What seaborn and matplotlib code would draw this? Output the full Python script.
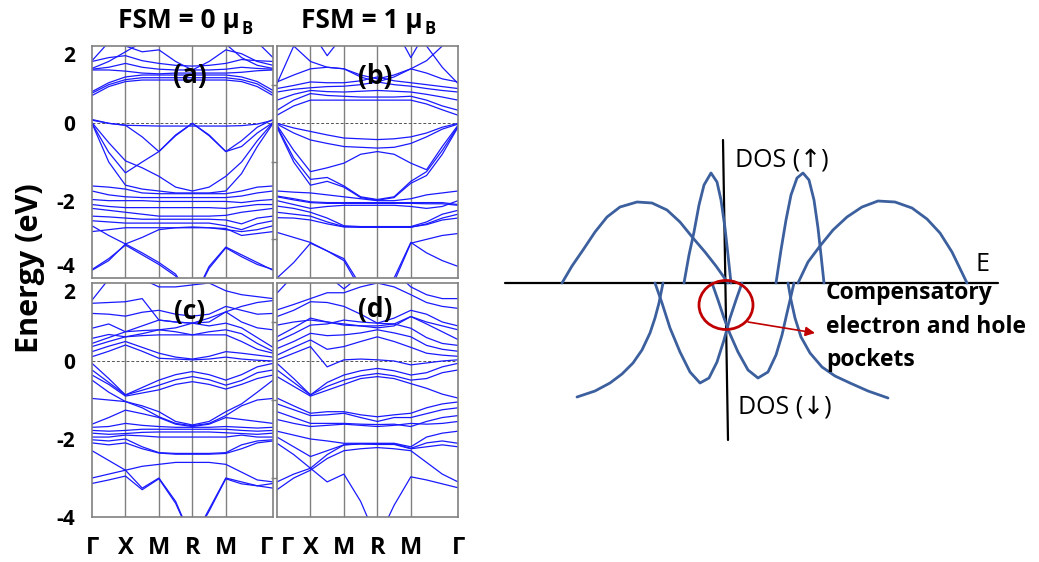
import numpy as np
import pandas as pd
import matplotlib
matplotlib.use("Agg")
import matplotlib.pyplot as plt
import matplotlib.transforms as mtransforms
import seaborn as sns
from matplotlib.patches import Ellipse

# ---------------------------------------------------------------- band data
# k-path sample positions along Γ-X-M-R-M-Γ (segments 1:1:1:1:√2)
k_path = [0, 0.5, 1, 1.5, 2, 2.5, 3, 3.5, 4, 4.47, 4.94, 5.41]
k_sym = [0, 1, 2, 3, 4, 5.41]
k_labels = ["Γ", "X", "M", "R", "M", "Γ"]
e_ticks = [2, 0, -2, -4]
e_tick_labels = ["2", "0", "-2", "-4"]

# (a) FSM = 0, spin channel 1
bands_a = [
    [0.72, 0.95, 1.08, 1.12, 1.12, 1.12, 1.12, 1.12, 1.12, 1.08, 0.95, 0.72],
    [0.78, 1.00, 1.13, 1.18, 1.18, 1.18, 1.18, 1.18, 1.18, 1.13, 1.02, 0.78],
    [0.82, 1.05, 1.20, 1.25, 1.25, 1.25, 1.25, 1.25, 1.25, 1.20, 1.08, 0.85],
    [1.38, 1.38, 1.35, 1.30, 1.28, 1.30, 1.30, 1.30, 1.30, 1.32, 1.36, 1.38],
    [1.40, 1.45, 1.55, 1.45, 1.40, 1.38, 1.38, 1.38, 1.40, 1.45, 1.42, 1.40],
    [1.60, 1.70, 1.75, 1.62, 1.55, 1.50, 1.48, 1.50, 1.55, 1.65, 1.62, 1.60],
    [2.50, 2.20, 2.00, 1.85, 1.90, 1.60, 1.38, 1.60, 1.90, 1.80, 1.60, 1.50],
    [1.62, 2.10, 2.50, 2.50, 2.50, 2.50, 2.50, 2.50, 2.50, 2.50, 2.10, 1.70],
    [1.42, 1.60, 1.85, 2.10, 2.00, 2.30, 2.50, 2.30, 2.05, 1.70, 1.50, 1.42],
    [0.10, 0.00, -0.05, -0.35, -0.73, -0.30, 0.00, -0.30, -0.73, -0.45, -0.10, 0.10],
    [0.08, 0.00, -0.05, -0.06, -0.07, -0.07, -0.07, -0.07, -0.07, -0.06, -0.02, 0.08],
    [0.02, -0.50, -0.97, -1.15, -1.37, -1.65, -1.75, -1.65, -1.37, -1.00, -0.45, 0.02],
    [0.00, -0.75, -1.28, -1.00, -0.73, -0.32, 0.00, -0.32, -0.73, -0.60, -0.25, 0.02],
    [0.00, -1.00, -1.60, -1.70, -1.75, -1.80, -1.80, -1.80, -1.75, -1.30, -0.60, 0.00],
    [-1.62, -1.65, -1.70, -1.80, -1.82, -1.82, -1.82, -1.82, -1.82, -1.75, -1.65, -1.62],
    [-1.75, -1.85, -1.90, -1.92, -1.92, -1.92, -1.92, -1.92, -1.92, -1.88, -1.80, -1.75],
    [-1.97, -2.00, -2.00, -2.00, -2.02, -2.02, -2.02, -2.02, -2.02, -2.05, -2.00, -1.97],
    [-2.10, -2.15, -2.18, -2.18, -2.18, -2.18, -2.18, -2.18, -2.20, -2.15, -2.10, -2.10],
    [-2.20, -2.25, -2.30, -2.35, -2.40, -2.40, -2.40, -2.40, -2.38, -2.30, -2.25, -2.20],
    [-2.40, -2.42, -2.45, -2.48, -2.48, -2.48, -2.48, -2.48, -2.50, -2.60, -2.45, -2.40],
    [-2.52, -2.55, -2.58, -2.58, -2.58, -2.58, -2.58, -2.58, -2.65, -2.75, -2.60, -2.52],
    [-2.65, -2.90, -3.12, -2.95, -2.75, -2.70, -2.68, -2.70, -2.75, -2.80, -2.75, -2.65],
    [-2.80, -2.75, -2.70, -2.70, -2.70, -2.70, -2.70, -2.70, -2.72, -2.90, -2.85, -2.80],
    [-3.80, -3.55, -3.12, -3.35, -3.60, -3.90, -4.60, -3.70, -3.20, -3.40, -3.60, -3.80],
    [-3.78, -3.50, -3.15, -3.40, -3.65, -3.95, -4.60, -3.75, -3.22, -3.45, -3.65, -3.78],
]

# (b) FSM = 1, spin channel 1
bands_b = [
    [0.21, 0.45, 0.60, 0.60, 0.60, 0.60, 0.60, 0.60, 0.60, 0.50, 0.35, 0.21],
    [0.34, 0.60, 0.77, 0.72, 0.70, 0.68, 0.68, 0.68, 0.70, 0.60, 0.45, 0.34],
    [0.60, 0.75, 0.85, 0.82, 0.81, 0.83, 0.85, 0.83, 0.81, 0.75, 0.68, 0.60],
    [0.81, 0.88, 0.92, 0.95, 0.96, 1.00, 1.07, 1.00, 0.96, 0.90, 0.85, 0.81],
    [0.90, 0.98, 1.07, 1.05, 1.05, 1.10, 1.20, 1.10, 1.05, 1.00, 0.95, 0.90],
    [1.07, 1.25, 1.41, 1.45, 1.41, 1.20, 1.07, 1.20, 1.41, 1.30, 1.15, 1.07],
    [2.50, 2.50, 2.40, 1.75, 2.30, 2.50, 2.50, 2.50, 1.70, 2.40, 2.50, 2.50],
    [1.03, 2.00, 2.50, 2.50, 2.50, 2.50, 2.50, 2.50, 2.50, 2.00, 1.45, 1.03],
    [2.40, 2.00, 1.60, 1.45, 1.41, 1.25, 1.15, 1.25, 1.41, 1.62, 2.00, 2.40],
    [0.00, -0.12, -0.21, -0.30, -0.38, -0.40, -0.42, -0.40, -0.35, -0.25, -0.10, 0.00],
    [-0.02, -0.25, -0.43, -0.52, -0.60, -0.62, -0.64, -0.62, -0.52, -0.35, -0.15, -0.02],
    [-0.05, -0.70, -1.25, -1.15, -1.03, -0.80, -0.73, -0.80, -1.03, -1.20, -0.60, -0.05],
    [-0.08, -0.90, -1.45, -1.40, -1.62, -1.90, -1.97, -1.90, -1.50, -1.25, -0.70, -0.08],
    [-0.10, -1.00, -1.60, -1.50, -1.65, -1.92, -1.99, -1.92, -1.55, -1.35, -0.80, -0.10],
    [-1.75, -1.78, -1.80, -1.85, -1.90, -1.95, -2.00, -2.00, -1.95, -1.85, -1.80, -1.75],
    [-1.88, -1.95, -2.03, -2.05, -2.05, -2.05, -2.05, -2.05, -2.05, -2.05, -2.05, -2.10],
    [-1.90, -1.98, -2.05, -2.07, -2.07, -2.07, -2.07, -2.07, -2.07, -2.08, -2.08, -2.12],
    [-2.00, -2.10, -2.20, -2.15, -2.12, -2.12, -2.12, -2.12, -2.15, -2.20, -2.15, -2.00],
    [-2.14, -2.20, -2.30, -2.45, -2.65, -2.67, -2.67, -2.67, -2.67, -2.55, -2.35, -2.25],
    [-2.30, -2.35, -2.40, -2.55, -2.67, -2.69, -2.69, -2.69, -2.69, -2.60, -2.45, -2.35],
    [-2.44, -2.45, -2.50, -2.60, -2.68, -2.68, -2.68, -2.68, -2.68, -2.62, -2.50, -2.45],
    [-4.00, -3.60, -3.10, -3.30, -3.50, -4.20, -4.80, -4.00, -3.08, -3.35, -3.55, -3.70],
    [-2.82, -2.95, -3.08, -3.30, -3.55, -4.30, -4.90, -4.10, -3.10, -3.00, -2.90, -2.85],
]

# (c) FSM = 0, spin channel 2
bands_c = [
    [0.11, 0.25, 0.41, 0.25, 0.07, 0.05, 0.03, 0.05, 0.10, 0.05, 0.02, 0.00],
    [0.24, 0.38, 0.50, 0.35, 0.20, 0.10, 0.05, 0.12, 0.24, 0.20, 0.15, 0.10],
    [0.37, 0.50, 0.62, 0.65, 0.67, 0.67, 0.67, 0.67, 0.67, 0.50, 0.30, 0.20],
    [0.45, 0.60, 0.75, 0.78, 0.80, 0.75, 0.67, 0.75, 0.80, 0.70, 0.45, 0.25],
    [0.58, 0.68, 0.62, 0.70, 0.80, 0.85, 0.97, 0.90, 0.97, 0.85, 0.60, 0.35],
    [0.84, 0.95, 0.75, 0.90, 1.05, 1.00, 0.97, 1.00, 1.26, 1.00, 0.85, 0.80],
    [1.48, 1.50, 1.52, 1.60, 1.05, 1.00, 0.97, 1.10, 1.26, 1.40, 1.50, 1.55],
    [1.56, 2.10, 2.40, 2.10, 1.90, 1.90, 1.95, 2.00, 1.80, 1.70, 1.65, 1.60],
    [1.22, 1.20, 1.15, 1.25, 1.30, 1.20, 1.15, 1.20, 1.40, 1.30, 1.20, 1.22],
    [-0.06, -0.45, -0.87, -0.68, -0.49, -0.35, -0.27, -0.35, -0.49, -0.35, -0.15, -0.06],
    [-0.23, -0.55, -0.87, -0.75, -0.62, -0.48, -0.40, -0.48, -0.62, -0.50, -0.30, -0.23],
    [-0.36, -0.60, -0.90, -0.82, -0.74, -0.60, -0.53, -0.60, -0.72, -0.60, -0.45, -0.36],
    [-0.49, -0.80, -1.04, -1.15, -1.30, -1.55, -1.64, -1.55, -1.30, -1.10, -0.80, -0.49],
    [-0.96, -1.00, -1.04, -1.20, -1.43, -1.60, -1.66, -1.60, -1.40, -1.15, -1.00, -0.96],
    [-1.62, -1.45, -1.26, -1.35, -1.45, -1.62, -1.68, -1.62, -1.45, -1.50, -1.55, -1.60],
    [-1.70, -1.68, -1.60, -1.65, -1.68, -1.70, -1.70, -1.70, -1.68, -1.70, -1.72, -1.70],
    [-1.78, -1.80, -1.78, -1.75, -1.75, -1.75, -1.75, -1.75, -1.75, -1.78, -1.80, -1.78],
    [-1.85, -1.88, -1.86, -1.83, -1.82, -1.82, -1.82, -1.82, -1.84, -1.86, -1.88, -1.85],
    [-1.95, -1.95, -1.90, -1.92, -1.95, -1.95, -1.95, -1.95, -1.95, -1.90, -1.95, -1.95],
    [-2.02, -2.05, -2.00, -2.20, -2.35, -2.37, -2.37, -2.37, -2.35, -2.15, -2.05, -2.02],
    [-2.10, -2.15, -2.10, -2.25, -2.36, -2.39, -2.39, -2.39, -2.37, -2.25, -2.10, -2.05],
    [-2.30, -2.55, -2.80, -3.26, -3.00, -3.60, -4.60, -3.80, -3.00, -3.10, -3.20, -3.26],
    [-3.00, -2.90, -2.80, -2.70, -2.65, -2.60, -2.60, -2.60, -2.65, -2.85, -3.05, -3.10],
    [-3.14, -3.05, -2.95, -3.30, -3.02, -3.65, -4.60, -3.85, -3.02, -3.15, -3.20, -3.14],
]

# (d) FSM = 1, spin channel 2
bands_d = [
    [0.03, 0.20, 0.37, -0.15, 0.03, 0.05, 0.03, 0.00, -0.10, -0.05, 0.00, 0.03],
    [0.15, 0.35, 0.54, 0.30, 0.37, 0.50, 0.62, 0.50, 0.35, 0.20, 0.15, 0.12],
    [0.32, 0.50, 0.71, 0.65, 0.67, 0.72, 0.80, 0.72, 0.62, 0.40, 0.30, 0.25],
    [0.50, 0.70, 0.92, 0.95, 1.05, 1.00, 0.97, 0.95, 0.84, 0.60, 0.45, 0.40],
    [0.62, 0.85, 1.10, 1.00, 0.95, 0.90, 0.85, 0.90, 1.14, 0.95, 0.75, 0.55],
    [0.92, 1.00, 1.05, 1.00, 0.92, 0.90, 0.90, 0.95, 1.14, 1.00, 0.90, 0.80],
    [1.14, 1.30, 1.52, 1.50, 1.40, 1.20, 0.97, 1.10, 1.30, 1.20, 1.00, 0.90],
    [1.31, 1.45, 1.60, 1.75, 1.75, 1.90, 2.00, 1.90, 1.70, 1.50, 1.40, 1.35],
    [1.74, 2.20, 2.50, 2.20, 1.85, 2.20, 2.50, 2.30, 1.90, 1.70, 1.60, 1.60],
    [-0.06, -0.45, -0.87, -0.55, -0.36, -0.25, -0.19, -0.25, -0.36, -0.30, -0.15, -0.06],
    [-0.23, -0.55, -0.87, -0.65, -0.49, -0.38, -0.32, -0.38, -0.49, -0.45, -0.30, -0.23],
    [-0.40, -0.65, -0.90, -0.75, -0.60, -0.45, -0.40, -0.45, -0.58, -0.70, -0.85, -0.95],
    [-0.95, -1.15, -1.34, -1.30, -1.30, -1.38, -1.43, -1.38, -1.34, -1.20, -1.10, -1.05],
    [-1.10, -1.25, -1.40, -1.38, -1.34, -1.45, -1.55, -1.45, -1.45, -1.35, -1.25, -1.20],
    [-1.30, -1.45, -1.60, -1.60, -1.60, -1.62, -1.63, -1.62, -1.68, -1.55, -1.45, -1.40],
    [-1.50, -1.60, -1.68, -1.65, -1.62, -1.65, -1.68, -1.65, -1.60, -1.62, -1.60, -1.55],
    [-1.80, -1.90, -2.00, -2.05, -2.11, -2.11, -2.11, -2.11, -2.20, -1.95, -1.85, -1.80],
    [-2.11, -2.40, -2.75, -2.40, -2.15, -2.12, -2.12, -2.12, -2.24, -2.10, -2.05, -2.11],
    [-1.95, -2.20, -2.45, -2.30, -2.15, -2.13, -2.14, -2.14, -2.25, -2.20, -2.15, -2.20],
    [-3.10, -2.90, -2.75, -3.10, -2.90, -3.60, -4.60, -3.70, -2.97, -3.05, -3.15, -3.25],
    [-3.30, -3.00, -2.80, -2.50, -2.30, -2.25, -2.22, -2.25, -2.30, -2.60, -2.90, -3.10],
]

# ----------------------------------------------------------- DOS schematic
# energy (E) and DOS values of the schematic curves; spin-down drawn negative
dos_up_broad_left_E = [-16.5, -15.5, -14.4, -13.2, -12.0, -10.7, -9.0, -7.5, -6.0, -4.7, -3.4, -2.2, -1.1, 0.1]
dos_up_broad_left_D = [0, 1.7, 3.3, 5.1, 6.6, 7.6, 8.1, 8.0, 7.3, 6.1, 4.5, 3.1, 1.7, 0]
dos_up_narrow_left_E = [-4.3, -3.8, -3.3, -2.8, -2.3, -1.6, -1.0, -0.6, -0.2, 0.1, 0.4]
dos_up_narrow_left_D = [0, 2.8, 5.1, 7.8, 9.8, 11.0, 10.1, 8.3, 5.5, 2.8, 0]
dos_up_narrow_right_E = [4.9, 5.4, 5.9, 6.4, 7.0, 7.6, 8.2, 8.7, 9.1, 9.4, 9.7]
dos_up_narrow_right_D = [0, 3.3, 6.3, 8.8, 10.5, 11.0, 10.3, 8.3, 5.5, 2.8, 0]
dos_up_broad_right_E = [7.1, 8.1, 9.3, 10.6, 12.0, 13.5, 15.1, 16.8, 18.5, 20.0, 21.3, 22.5, 24.0]
dos_up_broad_right_D = [0, 2.1, 3.7, 5.3, 6.6, 7.6, 8.2, 8.1, 7.5, 6.4, 5.0, 3.1, 0]
dos_dn_tail_left_E = [-15.0, -13.2, -11.7, -10.5, -9.4, -8.5, -7.7, -7.2, -6.8, -6.4]
dos_dn_tail_left_D = [-11.4, -10.8, -10.0, -9.1, -8.0, -6.7, -5.0, -3.5, -2.0, 0]
dos_dn_narrow_left_E = [-7.2, -6.5, -5.7, -4.7, -3.7, -2.7, -1.8, -1.0, -0.3, 0.3, 0.9, 1.5]
dos_dn_narrow_left_D = [0, -2.0, -4.5, -6.9, -8.9, -10.0, -9.5, -7.9, -5.7, -3.5, -1.7, 0]
dos_dn_narrow_right_E = [-1.5, -0.9, -0.3, 0.3, 1.1, 2.1, 3.1, 4.1, 4.9, 5.5, 6.0, 6.4, 6.7]
dos_dn_narrow_right_D = [0, -1.7, -3.5, -5.1, -6.9, -8.7, -9.5, -8.9, -7.2, -5.2, -3.0, -1.3, 0]
dos_dn_tail_right_E = [6.1, 6.4, 6.8, 7.4, 8.3, 9.5, 10.8, 12.3, 14.1, 16.1]
dos_dn_tail_right_D = [0, -1.7, -3.5, -5.4, -7.0, -8.4, -9.3, -10.0, -10.8, -11.5]

pocket_lines = ["Compensatory", "electron and hole", "pockets"]

# ------------------------------------------------------------------ styling
sns.set_theme(style="white")
plt.rcParams["font.family"] = ["Open Sans", "DejaVu Sans"]
plt.rcParams["text.color"] = "black"
plt.rcParams["xtick.color"] = "black"
plt.rcParams["ytick.color"] = "black"

BAND_BLUE = "#1a1aff"
FRAME_GREY = "#808080"
DOS_BLUE = "#3c5f9e"
RING_RED = "#c00000"

W, H = 1039, 562
fig = plt.figure(figsize=(W / 100, H / 100), dpi=100)


def add_px_axes(left, top, right, bottom):
    return fig.add_axes([left / W, 1 - bottom / H, (right - left) / W, (bottom - top) / H])


def bands_frame(bands):
    rows = []
    for b, energies in enumerate(bands):
        for k, e in zip(k_path, energies):
            rows.append({"band": b, "k": k, "E": e})
    return pd.DataFrame(rows)


# tag, bands, pixel box, show k labels, show energy labels, tag height
panels = [
    ("(a)", bands_a, (92, 46, 273, 278), False, True, 0.875),
    ("(b)", bands_b, (277, 46, 458, 278), False, False, 0.870),
    ("(c)", bands_c, (92, 283, 273, 517), True, True, 0.880),
    ("(d)", bands_d, (277, 283, 458, 517), True, False, 0.887),
]

band_axes = {}
for tag, bands, box, show_x, show_y, tag_y in panels:
    ax = add_px_axes(*box)
    band_axes[tag] = ax
    for k in k_sym[1:-1]:
        ax.axvline(k, color=FRAME_GREY, lw=1.0, zorder=1)
    ax.axhline(0, color="#555555", lw=0.7, ls=(0, (3, 2)), zorder=1)
    sns.lineplot(data=bands_frame(bands), x="k", y="E", units="band",
                 estimator=None, sort=False, color=BAND_BLUE, lw=0.9,
                 legend=False, ax=ax, zorder=2)
    ax.set_xlim(k_sym[0], k_sym[-1])
    ax.set_ylim(-4, 2)
    ax.set_xlabel("")
    ax.set_ylabel("")
    ax.set_xticks(k_sym)
    ax.set_xticklabels(k_labels if show_x else [])
    ax.set_yticks(e_ticks)
    ax.set_yticklabels(e_tick_labels if show_y else [])
    ax.tick_params(axis="x", length=0, pad=14, labelsize=17, labelcolor="black")
    ax.tick_params(axis="y", length=0, pad=12, labelsize=15, labelcolor="black")
    for lab in ax.get_xticklabels() + ax.get_yticklabels():
        lab.set_fontweight("bold")
    if show_y:
        ylabs = ax.get_yticklabels()
        ylabs[0].set_va("top")
        if tag == "(a)":
            ylabs[-1].set_va("bottom")
    if show_x:
        xlabs = ax.get_xticklabels()
        if tag == "(c)":
            xlabs[-1].set_ha("right")
        else:
            xlabs[0].set_ha("left")
            shift = mtransforms.ScaledTranslation(4 / 100, 0, fig.dpi_scale_trans)
            xlabs[0].set_transform(xlabs[0].get_transform() + shift)
    if not show_y:
        ax.set_yticks([1, -1, -3], minor=True)
        ax.tick_params(axis="y", which="minor", left=True, length=4,
                       width=1, color=FRAME_GREY, direction="out")
    for sp in ax.spines.values():
        sp.set_color(FRAME_GREY)
        sp.set_linewidth(1.2)
        sp.set_visible(True)
    ax.text(0.54, tag_y, tag, transform=ax.transAxes, ha="center", va="center",
            fontsize=19, fontweight="bold", color="black", zorder=5)

# column titles with subscript B
for tag, label, xfrac in [("(a)", "FSM = 0 μ", 0.48), ("(b)", "FSM = 1 μ", 0.47)]:
    ax = band_axes[tag]
    t = ax.text(xfrac, 1.078, label, transform=ax.transAxes, ha="center",
                va="baseline", fontsize=19, fontweight="bold", color="black")
    ax.annotate("B", xy=(1.0, 0.22), xycoords=t, xytext=(1, -1),
                textcoords="offset points", ha="left", va="center",
                fontsize=12, fontweight="bold", color="black")

fig.text(30 / W, 1 - 268 / H, "Energy (eV)", rotation=90, ha="center",
         va="center", fontsize=22, fontweight="bold", color="black")

# --------------------------------------------------------- DOS schematic axes
sx = add_px_axes(500, 120, 1039, 460)
sx.set_xlim((500 - 727) / 10, (1039 - 727) / 10)
sx.set_ylim((283 - 460) / 10, (283 - 120) / 10)
sx.axis("off")

curve_rows = []
for name, es, ds in [
    ("up_broad_left", dos_up_broad_left_E, dos_up_broad_left_D),
    ("up_narrow_left", dos_up_narrow_left_E, dos_up_narrow_left_D),
    ("up_narrow_right", dos_up_narrow_right_E, dos_up_narrow_right_D),
    ("up_broad_right", dos_up_broad_right_E, dos_up_broad_right_D),
    ("dn_tail_left", dos_dn_tail_left_E, dos_dn_tail_left_D),
    ("dn_narrow_left", dos_dn_narrow_left_E, dos_dn_narrow_left_D),
    ("dn_narrow_right", dos_dn_narrow_right_E, dos_dn_narrow_right_D),
    ("dn_tail_right", dos_dn_tail_right_E, dos_dn_tail_right_D),
]:
    for e, d in zip(es, ds):
        curve_rows.append({"curve": name, "E": e, "DOS": d})
curves = pd.DataFrame(curve_rows)

# axes of the schematic
sx.plot([-22.2, 27.1], [0, 0], color="black", lw=1.6, zorder=2)
sx.plot([-0.4, 0.1], [14.3, -15.7], color="black", lw=1.6, zorder=2)

sns.lineplot(data=curves, x="E", y="DOS", units="curve", estimator=None,
             sort=False, color=DOS_BLUE, lw=2.0, legend=False, ax=sx, zorder=3)
sx.set_xlabel("")
sx.set_ylabel("")

sx.text(0.8, 12.3, "DOS (↑)", ha="left", va="center", fontsize=18, color="black")
sx.text(24.8, 1.9, "E", ha="left", va="center", fontsize=18, color="black")
sx.text(1.1, -12.4, "DOS (↓)", ha="left", va="center", fontsize=18, color="black")
for line, ypos in zip(pocket_lines, [-1.0, -4.4, -7.7]):
    sx.text(9.9, ypos, line, ha="left", va="center", fontsize=16.5,
            fontweight="bold", color="black", zorder=4)

sx.add_patch(Ellipse((-0.1, -2.2), 5.4, 4.9, fill=False, ec=RING_RED, lw=2.0, zorder=4))
sx.annotate("", xy=(8.8, -5.0), xytext=(2.1, -3.9),
            arrowprops=dict(arrowstyle="-|>", color=RING_RED, lw=1.2,
                            mutation_scale=14, shrinkA=0, shrinkB=0), zorder=4)

fig.savefig("out.png", dpi=100, facecolor="white")
